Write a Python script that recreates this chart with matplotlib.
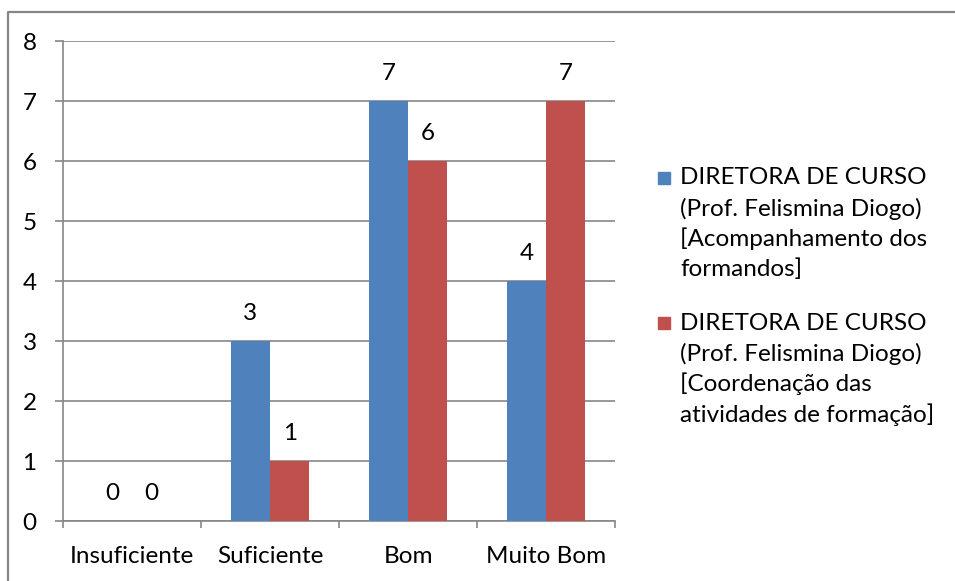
import numpy as np
import matplotlib
matplotlib.use("Agg")
import matplotlib.pyplot as plt
from matplotlib.patches import Rectangle
from matplotlib.lines import Line2D

categories = ["Insuficiente", "Suficiente", "Bom", "Muito Bom"]
acompanhamento = [0, 3, 7, 4]
coordenacao = [0, 1, 6, 7]
series_labels = [
    "DIRETORA DE CURSO\n(Prof. Felismina Diogo)\n[Acompanhamento dos\nformandos]",
    "DIRETORA DE CURSO\n(Prof. Felismina Diogo)\n[Coordenação das\natividades de formação]",
]
y_ticks = [0, 1, 2, 3, 4, 5, 6, 7, 8]

blue = "#4F81BD"
red = "#C0504D"
grid_gray = "#868686"

plt.rcParams["font.family"] = ["Lato", "DejaVu Sans"]
fs = 17.5

W, H = 955, 581
fig = plt.figure(figsize=(W / 100, H / 100), dpi=100)

# chart border (only top and left edges are visible in the crop)
fig.lines.append(Line2D([7.5 / W, 7.5 / W, 1], [0, (H - 11.5) / H, (H - 11.5) / H],
                        transform=fig.transFigure, color=grid_gray, lw=1.6))

ax = fig.add_axes([63 / W, (H - 521) / H, 552 / W, 480 / H])

x = np.arange(len(categories))
w = 1 / 3.5
b1 = ax.bar(x - w / 2, acompanhamento, w, color=blue, zorder=3)
b2 = ax.bar(x + w / 2, coordenacao, w, color=red, zorder=3)

for bars, vals in [(b1, acompanhamento), (b2, coordenacao)]:
    for rect, v in zip(bars, vals):
        ax.annotate(str(v), (rect.get_x() + rect.get_width() / 2, v),
                    xytext=(0, 20), textcoords="offset points",
                    ha="center", va="center", fontsize=fs, color="black")

ax.set_xlim(-0.5, len(categories) - 0.5)
ax.set_ylim(0, 8)
ax.set_yticks(y_ticks)
ax.set_yticklabels([str(t) for t in y_ticks])
ax.yaxis.grid(True, color=grid_gray, lw=1.2, zorder=0)
ax.set_axisbelow(True)

ax.set_xticks(x)
ax.set_xticklabels(categories)
ax.set_xticks(np.arange(len(categories) + 1) - 0.5, minor=True)
ax.tick_params(axis="x", which="major", length=0, pad=18, labelsize=fs)
ax.tick_params(axis="x", which="minor", length=5, color=grid_gray, width=1.2)
ax.tick_params(axis="y", length=6, color=grid_gray, width=1.2, pad=13, labelsize=fs)

for s in ["top", "right"]:
    ax.spines[s].set_visible(False)
for s in ["left", "bottom"]:
    ax.spines[s].set_color(grid_gray)
    ax.spines[s].set_linewidth(1.2)

# legend, square markers aligned with the first line of each entry
line_h = 30.5
starts = [178, 323]
for lab, col, y0 in zip(series_labels, [blue, red], starts):
    fig.patches.append(Rectangle((658 / W, (H - y0 - 6) / H), 12 / W, 12 / H,
                                 transform=fig.transFigure, color=col))
    for i, line in enumerate(lab.split("\n")):
        fig.text(680 / W, (H - y0 - i * line_h) / H, line, ha="left", va="center",
                 fontsize=fs, color="black")

fig.savefig("out.png", dpi=100)
